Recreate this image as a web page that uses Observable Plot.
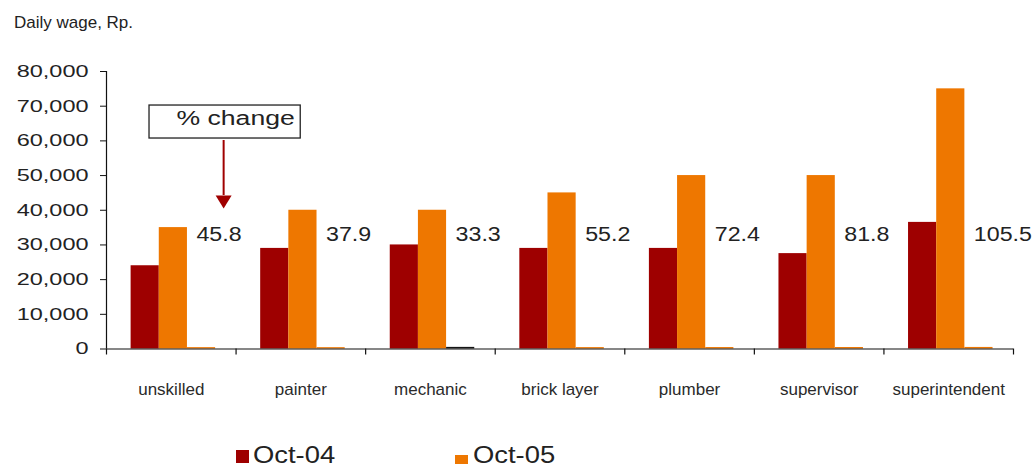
<!DOCTYPE html>
<html>
<head>
<meta charset="utf-8">
<script src="https://cdn.jsdelivr.net/npm/d3@7"></script>
<script src="https://cdn.jsdelivr.net/npm/@observablehq/plot@0.6"></script>
<style>
  body { margin: 0; background: #fff; }
  #wrap { position: relative; width: 1033px; height: 468px; overflow: hidden; background: #fff; color: #222; }
  #chart { position: absolute; left: 0; top: 0; }
  #title { position: absolute; left: 14px; top: 13.6px; font: 17px/17px "Liberation Sans", Arial, sans-serif; color: #222; white-space: nowrap; }
  .sw { position: absolute; width: 13px; }
  .lt { position: absolute; font: 23px/16px "Liberation Sans", Arial, sans-serif; color: #222; white-space: nowrap; transform: scaleX(1.19); transform-origin: 0 50%; }
</style>
</head>
<body>
<div id="wrap">
  <div id="chart"></div>
  <div id="title">Daily wage, Rp.</div>
  <div class="sw" style="left:236px; top:450px; height:13px; background:#9e0000;"></div>
  <div class="lt" style="left:253px; top:447px;">Oct-04</div>
  <div class="sw" style="left:455px; top:455px; height:9px; background:#ee7700;"></div>
  <div class="lt" style="left:473px; top:447px;">Oct-05</div>
</div>
<script>
// ---- data ----
const categories = ["unskilled", "painter", "mechanic", "brick layer", "plumber", "supervisor", "superintendent"];
const oct04 = [24000, 29000, 30000, 29000, 29000, 27500, 36500];
const oct05 = [35000, 40000, 40000, 45000, 50000, 50000, 75000];
const pctChange = [45.8, 37.9, 33.3, 55.2, 72.4, 81.8, 105.5];
const seriesNames = ["Oct-04", "Oct-05", "% change"];
const yTicks = [0, 10000, 20000, 30000, 40000, 50000, 60000, 70000, 80000];

// ---- layout helpers ----
const sub = d3.scaleBand().domain(seriesNames).range([0, 1]).paddingInner(0).paddingOuter(0.8).align(0.546);
const bw = sub.bandwidth();
function rowsFor(name, values) {
  return categories.map((c, i) => ({cat: c, series: name, value: values[i], x1: i + sub(name), x2: i + sub(name) + bw}));
}
const r04 = rowsFor("Oct-04", oct04);
const r05 = rowsFor("Oct-05", oct05);
const rPct = rowsFor("% change", pctChange);

const boundaries = d3.range(categories.length + 1);
const centers = categories.map((c, i) => i + 0.5);

const font = "Liberation Sans, Arial, Helvetica, sans-serif";
const ink = "#222";
const darkRed = "#9e0000", orange = "#ee7700", arrowRed = "#a00000";

// annotation (layout constants, in chart units)
const note = {label: "% change", bx1: 0.332, bx2: 1.499, by1: 60680, by2: 70190, tx: 0.54, ty: 66300,
              ax: 0.904, ay1: 60104, ay2: 44249, headY: 42375};
const headDown = {draw(ctx) { ctx.moveTo(-8, -6.5); ctx.lineTo(8, -6.5); ctx.lineTo(0, 6.5); ctx.closePath(); }};

const svg = Plot.plot({
  width: 1033,
  height: 468,
  marginTop: 71,
  marginBottom: 119.5,
  marginLeft: 106,
  marginRight: 20,
  style: {background: "transparent", color: ink},
  x: {type: "linear", domain: [0, categories.length], axis: null},
  y: {domain: [0, 80000], axis: null},
  marks: [
    Plot.rectY(r04, {x1: "x1", x2: "x2", y: "value", fill: darkRed}),
    Plot.rectY(r05, {x1: "x1", x2: "x2", y: "value", fill: orange}),
    Plot.rectY(rPct.filter(d => d.cat !== "mechanic"), {x1: "x1", x2: "x2", y: "value", fill: orange, insetTop: -1.2}),
    Plot.rectY(rPct.filter(d => d.cat === "mechanic"), {x1: "x1", x2: "x2", y: "value", fill: "#151515", insetTop: -1.5}),
    // axes
    Plot.ruleY([0], {stroke: "#111", strokeWidth: 1.2}),
    Plot.ruleX([0], {stroke: "#111", strokeWidth: 1.2}),
    Plot.ruleX(boundaries, {x: d => d, y1: 0, y2: 0, insetBottom: -6, stroke: "#111", strokeWidth: 1.2}),
    Plot.axisY(yTicks, {tickSize: 6, tickPadding: 12, tickFormat: d3.format(","), fontSize: 17, fontFamily: font, stroke: "#111", fill: ink, label: null}),
    Plot.axisX(centers, {tickSize: 0, tickPadding: 34, tickFormat: d => categories[Math.floor(d)], fontSize: 17, fontFamily: font, fill: "#2a2a2a", label: null}),
    // % change labels
    Plot.text(rPct, {x: "x1", frameAnchor: "top", dy: 155, dx: 9, text: d => d.value.toFixed(1), textAnchor: "start", fontSize: 20, fontFamily: font, fill: ink, ariaDescription: "pct-label"}),
    // annotation box + arrow
    Plot.rect([note], {x1: "bx1", x2: "bx2", y1: "by1", y2: "by2", fill: "white", stroke: "#222", strokeWidth: 1.3}),
    Plot.text([note], {x: "tx", y: "ty", text: "label", textAnchor: "start", fontSize: 20, fontFamily: font, fill: ink, ariaDescription: "note-label"}),
    Plot.ruleX([note], {x: "ax", y1: "ay1", y2: "ay2", stroke: arrowRed, strokeWidth: 2}),
    Plot.dot([note], {x: "ax", y: "headY", symbol: headDown, fill: arrowRed, stroke: null})
  ]
});
document.getElementById("chart").append(svg);

// horizontally widen some texts to match the reference's wide lettering
function stretch(selector, k) {
  svg.querySelectorAll(selector).forEach(t => {
    const L = t.getComputedTextLength();
    if (L > 0) { t.setAttribute("textLength", L * k); t.setAttribute("lengthAdjust", "spacingAndGlyphs"); }
  });
}
stretch('g[aria-label="y-axis tick label"] text', 1.38);
stretch('g[aria-description="pct-label"] text', 1.16);
stretch('g[aria-description="note-label"] text', 1.33);
</script>
</body>
</html>
